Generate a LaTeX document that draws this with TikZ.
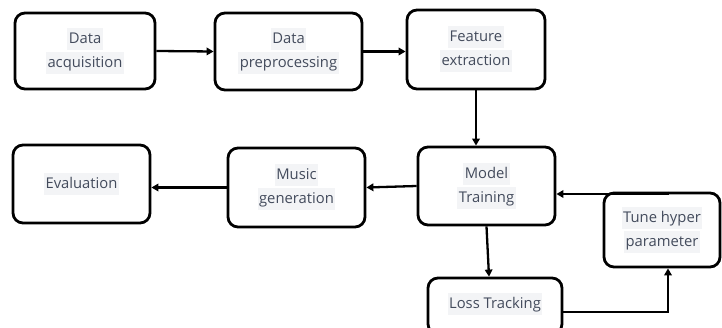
\documentclass[tikz,border=0pt]{standalone}
\usepackage{fontspec}
\setmainfont{Open Sans}
\usetikzlibrary{arrows.meta}
\definecolor{txtgray}{HTML}{434B5C}
\definecolor{hlgray}{HTML}{F3F4F6}
% light highlight behind each text line
\newcommand{\hlline}[1]{{\setlength{\fboxsep}{1.5pt}\colorbox{hlgray}{\rule[-5pt]{0pt}{19pt}#1}}}
\tikzset{
  stagebox/.style={draw=black, line width=2.8pt, rounded corners=10pt, fill=white,
    align=center, text=txtgray, inner sep=0pt,
    font=\fontsize{14.8}{24}\selectfont},
  flow/.style={draw=black, line width=2.3pt, -{Triangle[length=7pt,width=7.5pt]}}
}
\begin{document}
\begin{tikzpicture}[x=1pt, y=-1pt]
\useasboundingbox (0,0) rectangle (722,328);
\clip (0,0) rectangle (722,328);
\fill[white] (0,0) rectangle (722,328);

\node[stagebox, minimum width=140pt, minimum height=76pt] (acq) at (85,51)
  {\hlline{Data}\\\hlline{acquisition}};
\node[stagebox, minimum width=147pt, minimum height=77pt] (pre) at (288.5,51.5)
  {\hlline{Data}\\\hlline{preprocessing}};
\node[stagebox, minimum width=138pt, minimum height=79pt] (feat) at (476,49.5)
  {\hlline{Feature}\\\hlline{extraction}};
\node[stagebox, minimum width=137pt, minimum height=78pt] (train) at (486.5,186)
  {\hlline{Model}\\\hlline{Training}};
\node[stagebox, minimum width=137pt, minimum height=79pt] (gen) at (296.5,187.5)
  {\hlline{Music}\\\hlline{generation}};
\node[stagebox, minimum width=137pt, minimum height=78pt] (eval) at (81.5,184)
  {\hlline{Evaluation}};
\node[stagebox, minimum width=116pt, minimum height=74pt] (tune) at (662,230)
  {\hlline{Tune hyper}\\\hlline{parameter}};
\node[stagebox, minimum width=134pt, minimum height=56pt] (loss) at (495,306)
  {\raisebox{10pt}{\hlline{Loss Tracking}}};

\draw[flow] (acq.east) -- (pre.west);
\draw[flow] (pre.east) -- (pre.east -| feat.west);
\draw[flow] (feat.south) -- (feat.south |- train.north);
\draw[flow] (train.west) -- (gen.east);
\draw[flow] (gen.west) -- (gen.west -| eval.east);
\draw[flow] (train.south) -- ([xshift=-6pt]loss.north);
\draw[flow] ([yshift=-6pt]loss.east) -| ([xshift=6pt]tune.south);
\draw[flow] ([xshift=6pt]tune.north) |- ([yshift=-8pt]train.east);
\end{tikzpicture}
\end{document}
